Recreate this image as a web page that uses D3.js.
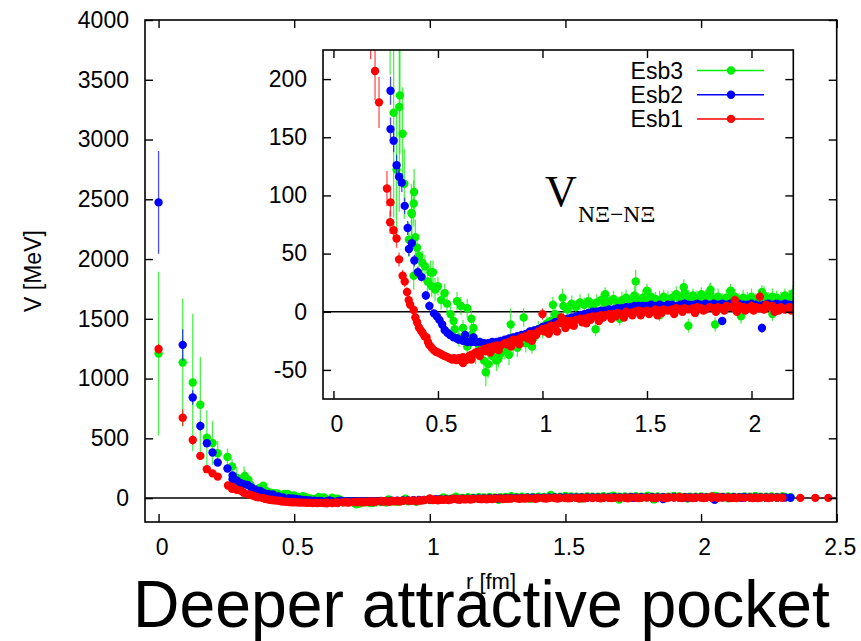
<!DOCTYPE html>
<html>
<head>
<meta charset="utf-8">
<script src="https://cdn.jsdelivr.net/npm/d3@7"></script>
<style>
body { margin: 0; background: #fff; }
svg { display: block; }
</style>
</head>
<body>
<div class="graphic"></div>
<script>
// ---- data ----
let seriesNames = ["Esb3", "Esb2", "Esb1"];
let seriesColors = ["#00ee00", "#0000ff", "#ff0000"];

let mainXTicks = [0, 0.5, 1, 1.5, 2, 2.5];
let mainYTicks = [0, 500, 1000, 1500, 2000, 2500, 3000, 3500, 4000];
let insetXTicks = [0, 0.5, 1, 1.5, 2];
let insetYTicks = [-50, 0, 50, 100, 150, 200];

// short-distance points [r, V, err]
let esb1Near = [[0,1248,40],[0.089,673,70],[0.126,486,40],[0.154,353,30],[0.178,242,25],[0.199,207,25],
  [0.218,180,22],[0.256,106,15],[0.273,94,12],[0.271,77,10],[0.288,70,8],[0.302,63,8],[0.314,45,6],
  [0.331,31,5],[0.341,26,5],[0.352,17,4],[0.360,10,4],[0.367,6,4],[0.384,1.5,3],[0.392,-5,3],[0.400,-9,3],
  [0.409,-13.5,3],[0.418,-16,3],[0.426,-18,3],[0.436,-21,3],[0.445,-22,3],[0.452,-26,3],[0.459,-28.7,3],
  [0.470,-31,3],[0.480,-33,3],[0.490,-34.4,3],[0.500,-35,3],[0.511,-36,3],[0.520,-37,3],[0.532,-38,3],
  [0.545,-39,3],[0.556,-40,3],[0.568,-41,3],[0.578,-40,3],[0.587,-41.6,3]];
let esb2Near = [[0,2474,430],[0.089,1282,130],[0.126,842,60],[0.154,603,40],[0.178,459,30],[0.199,381,25],
  [0.218,298,20],[0.254,248,18],[0.273,190,12],[0.273,157,10],[0.288,147,10],[0.302,126,9],[0.314,116,8],
  [0.327,111,8],[0.341,91,7],[0.355,72,6],[0.361,54,6],[0.375,59,5],[0.387,44,5],[0.404,34,5],[0.421,30,4],
  [0.442,14,4],[0.459,5,4],[0.481,-1.4,3],[0.495,-4,3],[0.507,-7,3],[0.520,-11,3],[0.532,-15.7,3],
  [0.545,-18,3],[0.558,-20,3],[0.575,-22,3],[0.592,-23,3]];
let esb3Near = [[0,1209,685],[0.089,1134,535],[0.126,967,575],[0.154,781,400],[0.178,506,230],[0.199,461,185],
  [0.218,375,105],[0.254,344,70],[0.271,264,60],[0.288,171,90],[0.315,176,90],[0.302,122,50],[0.331,153,40],
  [0.318,186,50],[0.339,110,30],[0.361,62,15],[0.373,85,25],[0.384,93,20],[0.375,84,18],[0.392,64,15],
  [0.386,103,20],[0.384,31,12],[0.400,55,12],[0.410,48,10],[0.426,42,10],[0.438,39,10],[0.450,26,10],
  [0.464,34,10],[0.470,22,9],[0.476,34,10],[0.486,19,10],[0.500,22,8],[0.515,10,8],[0.532,16,8],
  [0.543,7,8],[0.560,-2,8],[0.575,-8,8],[0.580,-15,6],[0.591,9,8]];

// long-distance band, shared r positions
let rBand = [0.60,0.62,0.64,0.66,0.68,0.70,0.72,0.74,0.76,0.78,
  0.80,0.82,0.84,0.86,0.88,0.90,0.92,0.94,0.96,0.98,
  1.00,1.02,1.04,1.06,1.08,1.10,1.12,1.14,1.16,1.18,
  1.20,1.22,1.24,1.26,1.28,1.30,1.32,1.34,1.36,1.38,
  1.40,1.42,1.44,1.46,1.48,1.50,1.52,1.54,1.56,1.58,
  1.60,1.62,1.64,1.66,1.68,1.70,1.72,1.74,1.76,1.78,
  1.80,1.82,1.84,1.86,1.88,1.90,1.92,1.94,1.96,1.98,
  2.00,2.02,2.04,2.06,2.08,2.10,2.12,2.14,2.16,2.18,
  2.20,2.22,2.24,2.26,2.28,2.30];
let esb1Band = [-40,-39,-41,-37,-35,-34,-32,-31,-30,-29,
  -29,-27,-26,-24,-24,-22,-21,-19,-19,-17,
  -15,-14,-12,-12,-10,-10,-8,-8,-7,-6,
  -6,-5,-4,-4,-3,-3,-2,-2,-1,-2,
  0,-1,0,1,0,1,0,2,1,2,
  1,2,3,2,3,2,3,4,3,2,
  4,3,4,3,5,4,3,5,4,3,
  5,4,3,2,4,5,3,4,2,4,
  3,4,3,4,3,3];
let esb1BandErr = [3,3,4,3,3,3,3,3,3,3, 3,3,3,3,3,3,3,3,3,3, 3,3,3,3,3,3,3,3,3,3,
  3,3,3,3,3,3,3,3,3,3, 3,3,3,3,3,3,3,3,3,3, 3,3,3,3,3,3,3,3,3,3,
  3,3,3,3,3,3,3,3,3,3, 4,3,3,4,3,3,3,3,4,3, 3,3,4,3,3,3];
let esb2Band = [-24,-25,-26,-26,-26,-26,-27,-27,-26,-26,
  -25,-24,-23,-22,-21,-20,-19,-17,-16,-15,
  -13,-12,-11,-9,-8,-7,-6,-5,-4,-3,
  -2,-1,0,0,1,1,2,2,3,3,
  4,4,5,5,5,5,6,5,6,5,
  6,6,5,6,7,6,6,7,6,7,
  6,7,6,7,6,7,6,7,6,6,
  7,6,5,6,7,6,7,6,7,6,
  6,6,5,6,5,5];
let esb2BandErr = [3,3,3,3,3,3,3,3,3,3, 3,3,3,3,3,3,3,3,3,3, 3,3,3,3,3,3,3,3,3,3,
  3,3,3,3,3,3,3,3,3,3, 3,3,3,3,3,3,3,3,3,3, 3,3,3,3,4,3,3,3,3,3,
  3,3,3,3,3,3,3,3,3,3, 3,3,4,3,3,3,3,3,3,3, 4,3,3,3,3,4];
let esb3Band = [-22,-14,-30,-20,-36,-30,-42,-45,-38,-42,
  -36,-33,-37,-28,-31,-24,-27,-20,-22,-15,
  -16,-10,-8,-2,-5,5,2,7,4,8,
  6,9,5,8,10,7,9,11,7,10,
  12,9,14,10,12,9,13,11,10,13,
  11,12,15,11,16,12,14,11,15,12,
  16,11,13,10,12,11,13,10,12,11,
  13,10,12,14,11,13,12,10,14,12,
  15,12,11,13,10,12];
let esb3BandErr = [8,7,9,8,9,8,10,12,9,9, 8,8,9,8,8,7,8,7,7,7, 7,6,7,8,6,7,6,7,6,7,
  6,7,6,7,6,8,6,7,6,7, 7,6,8,6,7,6,7,6,8,6, 7,6,7,6,8,7,6,7,6,7,
  8,6,7,6,7,6,7,6,7,6, 7,6,7,8,6,7,6,7,6,7, 8,6,7,6,7,6];

// scattered extra points [r, V, err]
let esb1Extra = [[0.61,-42,3],[0.62,-44,3],[0.65,-38,3],[0.66,-41,3],[0.69,-36,3],[0.70,-38,3],[0.73,-34,3],
  [0.75,-35,3],[0.77,-32,3],[0.79,-33,3],[0.83,-28,3],[0.85,-30,3],[0.87,-26,3],[0.89,-28,3],[0.93,-23,3],
  [0.95,-25,3],[0.97,-20,3],[1.0,-2,5],[1.01,-17,3],[1.03,-19,3],[1.05,-15,3],[1.07,-17,3],[1.09,-5,4],
  [1.11,-14,3],[1.13,-11,3],[1.15,-12,3],[1.19,-9,3],[1.21,-10,3],[1.23,-7,3],[1.27,-8,3],[1.29,-5,3],
  [1.33,-6,3],[1.35,-4,3],[1.39,-5,3],[1.43,-3,3],[1.47,-3,3],[1.51,-2,3],[1.55,-3,3],[1.57,-1,3],
  [1.63,-2,3],[1.67,0,3],[1.73,-1,3],[1.77,1,3],[1.83,0,3],[1.87,1,3],[1.92,10,4],[1.93,0,3],[1.97,1,3],
  [2.01,1,3],[2.04,13,5],[2.07,6,3],[2.11,0,3],[2.13,1,3],[2.19,1,3],[2.21,0,3],[2.25,1,3],
  [2.366,2,3],[2.421,2,3],[2.469,2,3]];
let esb2Extra = [[0.63,-20,3],[0.67,-22,3],[1.03,-12,3],[1.25,-3,3],[1.55,2,3],[1.75,3,3],[1.86,-8,3],
  [1.95,4,3],[2.05,-14,4],[2.15,3,3],[2.31,4,3],[2.33,3,3]];
let esb3Extra = [[0.61,5,8],[0.64,3,8],[0.66,-6,8],[0.67,-14,8],[0.729,-52,12],[0.79,-40,8],[0.848,-11,14],
  [0.91,-5,8],[0.95,-30,6],[1.05,6,7],[1.096,12,8],[1.2,-4,5],[1.254,-15,6],[1.3,15,6],[1.37,-6,6],
  [1.446,26,10],[1.5,18,6],[1.56,-3,5],[1.676,21,7],[1.698,-12,6],[1.804,19,6],[1.826,-11,6],[1.9,18,6],
  [1.95,-4,6],[2.05,17,6],[2.1,-2,6],[2.2,16,7],[2.3,14,6],[2.31,10,5],[2.33,8,5]];

// ---- drawing ----
let FONT = "Liberation Sans, Arial, Helvetica, sans-serif";
let SERIF = "Liberation Serif, Times New Roman, serif";
let DOT = 4.2;

let svg = d3.select(".graphic")
            .append("svg")
            .attr("width", 861)
            .attr("height", 641);

function bandPoints(vals, errs) {
    return rBand.map((r, i) => [r, vals[i], errs[i]]);
}

let series = [
    esb3Near.concat(bandPoints(esb3Band, esb3BandErr), esb3Extra),
    esb2Near.concat(bandPoints(esb2Band, esb2BandErr), esb2Extra),
    esb1Near.concat(bandPoints(esb1Band, esb1BandErr), esb1Extra)
];

let mainX = d3.scaleLinear().domain([-0.05, 2.5]).range([145, 836.7]);
let mainY = d3.scaleLinear().domain([-200, 4000]).range([522, 20]);
let insetX = d3.scaleLinear().domain([-0.05, 2.2]).range([323, 793.3]);
let insetY = d3.scaleLinear().domain([-75, 225]).range([399, 50]);


function styleAxis(g) {
    g.select(".domain").remove();
    g.selectAll("line").attr("stroke", "#000").attr("stroke-width", 1.4);
    g.attr("font-family", FONT).attr("font-size", 23);
    g.selectAll("text").attr("fill", "#000");
}


function drawPanel(id, x, y, xTicks, yTicks, labelPad) {
    let [x0, x1] = x.range();
    let [y0, y1] = y.range();
    let fmt = d => String(d);

    svg.append("clipPath").attr("id", id)
        .append("rect")
        .attr("x", x0).attr("y", y1)
        .attr("width", x1 - x0).attr("height", y0 - y1);

    let plot = svg.append("g").attr("clip-path", `url(#${id})`);

    // zero line
    plot.append("line")
        .attr("x1", x0).attr("x2", x1)
        .attr("y1", y(0)).attr("y2", y(0))
        .attr("stroke", "#000").attr("stroke-width", 1.5);

    series.forEach((pts, k) => {
        let sg = plot.append("g");
        sg.selectAll("line.err")
            .data(pts)
            .join("line")
            .attr("class", "err")
            .attr("x1", d => x(d[0])).attr("x2", d => x(d[0]))
            .attr("y1", d => y(d[1] - d[2])).attr("y2", d => y(d[1] + d[2]))
            .attr("stroke", seriesColors[k])
            .attr("stroke-width", 1.3)
            .attr("stroke-opacity", 0.7);
        sg.selectAll("circle")
            .data(pts)
            .join("circle")
            .attr("cx", d => x(d[0]))
            .attr("cy", d => y(d[1]))
            .attr("r", DOT)
            .attr("fill", seriesColors[k]);
    });

    svg.append("g").attr("transform", `translate(0,${y0})`)
        .call(d3.axisBottom(x).tickValues(xTicks).tickSize(-8).tickPadding(labelPad).tickFormat(fmt))
        .call(styleAxis)
        .selectAll("text").attr("dx", 3);
    svg.append("g").attr("transform", `translate(0,${y1})`)
        .call(d3.axisTop(x).tickValues(xTicks).tickSize(-8).tickFormat(""))
        .call(styleAxis);
    svg.append("g").attr("transform", `translate(${x0},0)`)
        .call(d3.axisLeft(y).tickValues(yTicks).tickSize(-8).tickPadding(16).tickFormat(fmt))
        .call(styleAxis);
    svg.append("g").attr("transform", `translate(${x1},0)`)
        .call(d3.axisRight(y).tickValues(yTicks).tickSize(-8).tickFormat(""))
        .call(styleAxis);

    svg.append("rect")
        .attr("x", x0).attr("y", y1)
        .attr("width", x1 - x0).attr("height", y0 - y1)
        .attr("fill", "none")
        .attr("stroke", "#000")
        .attr("stroke-width", 1.6);
}

drawPanel("mainClip", mainX, mainY, mainXTicks, mainYTicks, 17);
drawPanel("insetClip", insetX, insetY, insetXTicks, insetYTicks, 17);

// legend
let legend = svg.append("g").attr("font-family", FONT).attr("font-size", 23);
seriesNames.forEach((name, i) => {
    let ly = 70.5 + i * 24.2;
    legend.append("text")
        .attr("x", 683).attr("y", ly)
        .attr("dy", "0.35em")
        .attr("text-anchor", "end")
        .text(name);
    legend.append("line")
        .attr("x1", 697).attr("x2", 764)
        .attr("y1", ly).attr("y2", ly)
        .attr("stroke", seriesColors[i]).attr("stroke-width", 1.5);
    legend.append("circle")
        .attr("cx", 731).attr("cy", ly).attr("r", DOT)
        .attr("fill", seriesColors[i]);
});

// potential label
svg.append("text")
    .attr("x", 545).attr("y", 206)
    .attr("font-family", SERIF).attr("font-size", 44)
    .text("V");
svg.append("text")
    .attr("x", 578).attr("y", 222)
    .attr("font-family", SERIF).attr("font-size", 23.5)
    .text("NΞ−NΞ");

// axis titles
svg.append("text")
    .attr("transform", "translate(41,271) rotate(-90)")
    .attr("text-anchor", "middle")
    .attr("font-family", FONT).attr("font-size", 23)
    .text("V [MeV]");
svg.append("text")
    .attr("x", 491).attr("y", 589)
    .attr("text-anchor", "middle")
    .attr("font-family", FONT).attr("font-size", 22)
    .text("r [fm]");

// slide caption
svg.append("text")
    .attr("x", 133).attr("y", 627)
    .attr("font-family", FONT).attr("font-size", 66)
    .attr("textLength", 697).attr("lengthAdjust", "spacingAndGlyphs")
    .text("Deeper attractive pocket");
</script>
</body>
</html>
